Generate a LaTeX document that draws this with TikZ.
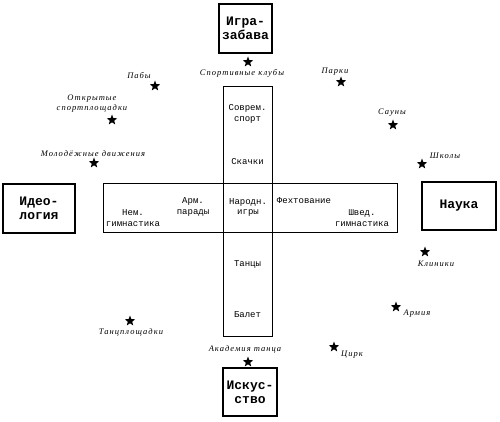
\documentclass[tikz,border=0pt]{standalone}
\usepackage{fontspec}
\setmainfont{Liberation Serif}
\newfontfamily\boxfont{Liberation Mono}[BoldFont={Liberation Mono Bold}]
\newfontfamily\lblfont{Liberation Serif}[LetterSpace=12]
\usetikzlibrary{shapes.geometric}
\begin{document}
\begin{tikzpicture}[x=1pt,y=-1pt,
  titlebox/.style={draw,line width=1.1pt,inner sep=0,align=center,font=\boxfont\bfseries\fontsize{13}{14}\selectfont},
  cell/.style={align=center,inner sep=0,font=\boxfont\fontsize{9}{10.5}\selectfont},
  frame/.style={draw,line width=0.9pt},
  starmark/.style={star,star points=5,star point ratio=2.4,fill=black,inner sep=0,minimum size=11pt},
  lbl/.style={inner sep=0,align=center,font=\lblfont\itshape\fontsize{8.5}{10}\selectfont}]
\useasboundingbox (0,0) rectangle (500,422);
% cross frames
\draw[frame] (223,86) rectangle (272,336);
\draw[frame] (103,183) rectangle (397,232);
% title boxes
\node[titlebox,minimum width=53pt,minimum height=49pt] (igra) at (245.5,28.5) {Игра-\\забава};
\node[titlebox,minimum width=72pt,minimum height=49pt] (ideo) at (39,208.5) {Идео-\\логия};
\node[titlebox,minimum width=74pt,minimum height=48pt] (nauka) at (459,206) {Наука};
\node[titlebox,minimum width=54pt,minimum height=48pt] (isk) at (250,392) {Искус-\\ство};
% cell texts
\node[cell] (sovr) at (247.5,114) {Соврем.\\спорт};
\node[cell] (skach) at (247.5,162) {Скачки};
\node[cell] (narod) at (248,207.5) {Народн.\\игры};
\node[cell] (tanc) at (247.5,264) {Танцы};
\node[cell] (balet) at (247.5,315) {Балет};
\node[cell] (nem) at (133,218) {Нем.\\гимнастика};
\node[cell] (arm) at (193,207) {Арм.\\парады};
\node[cell] (feht) at (304,201) {Фехтование};
\node[cell] (shved) at (362,218) {Швед.\\гимнастика};
% stars and labels
\node[starmark] (s1) at (248,62) {};
\node[lbl] (l1) at (242,73) {Спортивные клубы};
\node[starmark] (s2) at (155,86) {};
\node[lbl] (l2) at (139,76) {Пабы};
\node[starmark] (s3) at (112,120) {};
\node[lbl] (l3) at (92,104) {Открытые\\спортплощадки};
\node[starmark] (s4) at (94,163) {};
\node[lbl] (l4) at (93,154) {Молодёжные движения};
\node[starmark] (s5) at (341,82) {};
\node[lbl] (l5) at (335,72) {Парки};
\node[starmark] (s6) at (393,125) {};
\node[lbl] (l6) at (392,113) {Сауны};
\node[starmark] (s7) at (422,164) {};
\node[lbl] (l7) at (445,156) {Школы};
\node[starmark] (s8) at (425,252) {};
\node[lbl] (l8) at (436,264) {Клиники};
\node[starmark] (s9) at (396,307) {};
\node[lbl] (l9) at (417,314) {Армия};
\node[starmark] (s10) at (334,347) {};
\node[lbl] (l10) at (352,355) {Цирк};
\node[starmark] (s11) at (130,321) {};
\node[lbl] (l11) at (131,332) {Танцплощадки};
\node[starmark] (s12) at (248,362) {};
\node[lbl] (l12) at (245,349) {Академия танца};
\end{tikzpicture}
\end{document}
